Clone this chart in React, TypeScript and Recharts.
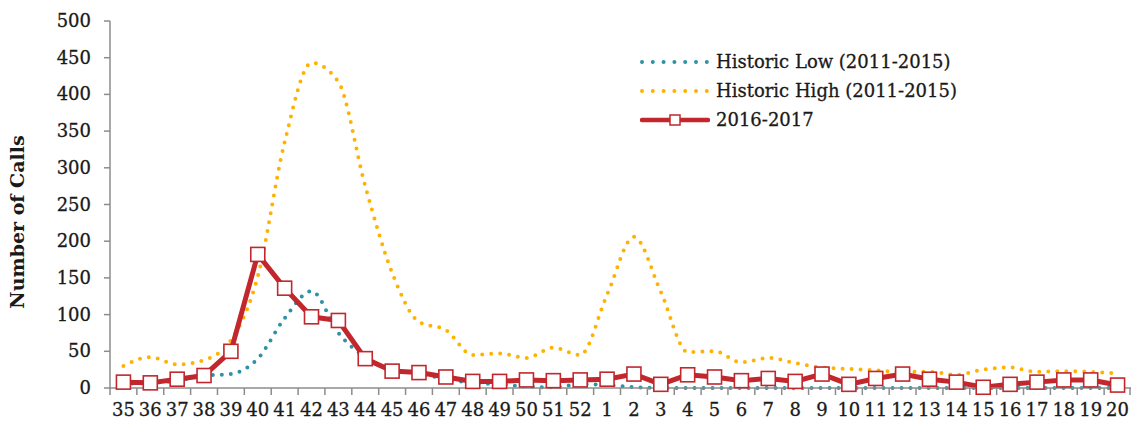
import { LineChart, Line, XAxis, YAxis } from "recharts";

const weeks = [
  "35", "36", "37", "38", "39", "40", "41", "42", "43", "44", "45", "46", "47", "48", "49", "50", "51", "52",
  "1", "2", "3", "4", "5", "6", "7", "8", "9", "10", "11", "12", "13", "14", "15", "16", "17", "18", "19", "20",
];

const historicLow = [
  6, 7, 10, 17, 19, 40, 95, 132, 75, 42, 25, 20, 12, 7, 5, 2, 1, 5,
  4, 1, 0, 0, 0, 0, 0, 0, 0, 0, 0, 0, 0, 0, 0, 0, 0, 0, 0, 0,
];

const historicHigh = [
  30, 42, 32, 38, 65, 152, 335, 443, 417, 275, 157, 90, 79, 45, 47, 41, 55, 45,
  127, 206, 131, 49, 50, 35, 41, 34, 28, 26, 24, 22, 22, 18, 25, 28, 22, 23, 22, 20,
];

const season = [
  8, 7, 12, 17, 50, 182, 136, 97, 92, 40, 23, 21, 15, 9, 9, 11, 10, 11,
  12, 19, 5, 18, 15, 10, 13, 9, 19, 5, 13, 19, 12, 8, 1, 5, 8, 11, 11, 4,
];

const yTicks = [0, 50, 100, 150, 200, 250, 300, 350, 400, 450, 500];

const seriesNames = ["Historic Low (2011-2015)", "Historic High (2011-2015)", "2016-2017"];
const yTitle = "Number of Calls";

const data = weeks.map((w, i) => ({
  week: w,
  low: historicLow[i],
  high: historicHigh[i],
  season: season[i],
}));

const FONT = "'DejaVu Serif', serif";
const TEAL = "#2f91a7";
const ORANGE = "#ffb300";
const RED = "#c1272d";
const AXIS = "#8c8c8c";
const TEXT = "#1a1a1a";

const WIDTH = 1131;
const HEIGHT = 426;
const HALF_BAND = (WIDTH - 110) / weeks.length / 2;

function WeekTick(props: any) {
  const { x, y, payload, index } = props;
  return (
    <g>
      <line x1={x - HALF_BAND} x2={x - HALF_BAND} y1={y} y2={y + 7} stroke={AXIS} strokeWidth={1.5} />
      {index === weeks.length - 1 && (
        <line x1={x + HALF_BAND - 1} x2={x + HALF_BAND - 1} y1={y} y2={y + 7} stroke={AXIS} strokeWidth={1.5} />
      )}
      <text
        x={x}
        y={y + 28}
        textAnchor="middle"
        fontSize={18}
        fontFamily={FONT}
        fill={TEXT}
        stroke={TEXT}
        strokeWidth={0.3}
      >
        {payload.value}
      </text>
    </g>
  );
}

function ValueTick(props: any) {
  const { x, y, payload } = props;
  return (
    <text
      x={x}
      y={y + 6}
      textAnchor="end"
      fontSize={18}
      fontFamily={FONT}
      fill={TEXT}
      stroke={TEXT}
      strokeWidth={0.3}
    >
      {payload.value}
    </text>
  );
}

function YTitle() {
  return (
    <text
      x={0}
      y={0}
      transform="translate(24 222) rotate(-90)"
      textAnchor="middle"
      fontSize={19}
      fontWeight="bold"
      fontFamily={FONT}
      fill={TEXT}
    >
      {yTitle}
    </text>
  );
}

function SquareDot(props: any) {
  const { cx, cy } = props;
  if (cx == null || cy == null) return null;
  return <rect x={cx - 7} y={cy - 7} width={14} height={14} fill="#fff" stroke={RED} strokeWidth={1.6} />;
}

function LegendBox() {
  const rowStyle = { display: "flex", alignItems: "center", height: 29 } as const;
  const textStyle = {
    marginLeft: 6,
    fontSize: 18,
    fontFamily: FONT,
    color: TEXT,
    whiteSpace: "nowrap",
    WebkitTextStroke: "0.3px #1a1a1a",
  } as const;
  return (
    <div style={{ position: "absolute", left: 640, top: 47 }}>
      <div style={rowStyle}>
        <svg width={70} height={10}>
          <line x1={2} x2={70} y1={5} y2={5} stroke={TEAL} strokeWidth={4} strokeDasharray="0 10.8" strokeLinecap="round" />
        </svg>
        <span style={textStyle}>{seriesNames[0]}</span>
      </div>
      <div style={rowStyle}>
        <svg width={70} height={10}>
          <line x1={2} x2={70} y1={5} y2={5} stroke={ORANGE} strokeWidth={4} strokeDasharray="0 10.8" strokeLinecap="round" />
        </svg>
        <span style={textStyle}>{seriesNames[1]}</span>
      </div>
      <div style={rowStyle}>
        <svg width={70} height={16}>
          <line x1={2} x2={68} y1={8} y2={8} stroke={RED} strokeWidth={4.5} strokeLinecap="round" />
          <rect x={30} y={3} width={10} height={10} fill="#fff" stroke={RED} strokeWidth={1.5} />
        </svg>
        <span style={textStyle}>{seriesNames[2]}</span>
      </div>
    </div>
  );
}

export default function App() {
  return (
    <div style={{ position: "absolute", left: 0, top: 0, width: WIDTH, height: HEIGHT, background: "#fff" }}>
      <LineChart width={WIDTH} height={HEIGHT} data={data} margin={{ top: 21, right: 0, bottom: 0, left: 0 }}>
        <XAxis
          dataKey="week"
          height={38}
          interval={0}
          padding={{ left: HALF_BAND, right: HALF_BAND }}
          tickLine={false}
          tickSize={0}
          tickMargin={0}
          stroke={AXIS}
          strokeWidth={1.5}
          tick={<WeekTick />}
        />
        <YAxis
          width={110}
          domain={[0, 500]}
          ticks={yTicks}
          interval={0}
          tickSize={6}
          tickMargin={13}
          stroke={AXIS}
          strokeWidth={1.5}
          tick={<ValueTick />}
          label={{ content: <YTitle /> }}
        />
        <Line
          type="monotone"
          dataKey="low"
          stroke={TEAL}
          strokeWidth={4}
          strokeDasharray="0 9"
          strokeLinecap="round"
          dot={false}
          isAnimationActive={false}
        />
        <Line
          type="monotone"
          dataKey="high"
          stroke={ORANGE}
          strokeWidth={4}
          strokeDasharray="0 9"
          strokeLinecap="round"
          dot={false}
          isAnimationActive={false}
        />
        <Line
          type="linear"
          dataKey="season"
          stroke={RED}
          strokeWidth={5}
          dot={<SquareDot />}
          isAnimationActive={false}
        />
      </LineChart>
      <LegendBox />
    </div>
  );
}
